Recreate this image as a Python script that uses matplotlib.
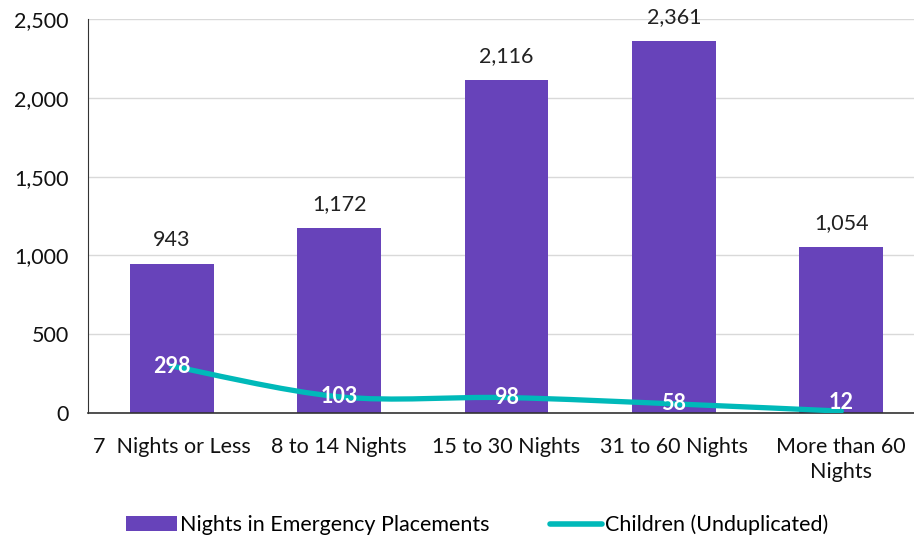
import numpy as np
import matplotlib
matplotlib.use("Agg")
import matplotlib.pyplot as plt
from matplotlib.path import Path
from matplotlib.patches import PathPatch
from matplotlib.lines import Line2D
from matplotlib.patches import Patch

# Data
categories = ["7  Nights or Less", "8 to 14 Nights", "15 to 30 Nights",
              "31 to 60 Nights", "More than 60\nNights"]
nights = [943, 1172, 2116, 2361, 1054]
children = [298, 103, 98, 58, 12]

BAR_COLOR = "#6743BA"
LINE_COLOR = "#00B9B9"
FS = 15.5

plt.rcParams['font.family'] = ['Lato', 'DejaVu Sans']

fig = plt.figure(figsize=(9.14, 5.41), dpi=100)
ax = fig.add_axes([88 / 914, 1 - 413 / 541, (925 - 88) / 914, (413 - 19) / 541])

x = np.arange(len(categories))
ax.bar(x, nights, width=0.5, color=BAR_COLOR, zorder=2)

for xi, v in zip(x, nights):
    ax.annotate(f"{v:,}", (xi, v), xytext=(0, 10), textcoords="offset points",
                ha="center", va="bottom", fontsize=FS, color="#222222")

# smoothed line (Excel style, Catmull-Rom -> cubic bezier)
verts = [(x[0], children[0])]
codes = [Path.MOVETO]
pts = list(zip(x, children))
for i in range(len(pts) - 1):
    p0 = pts[i - 1] if i > 0 else pts[i]
    p1 = pts[i]
    p2 = pts[i + 1]
    p3 = pts[i + 2] if i + 2 < len(pts) else pts[i + 1]
    c1 = (p1[0] + (p2[0] - p0[0]) / 6, p1[1] + (p2[1] - p0[1]) / 6)
    c2 = (p2[0] - (p3[0] - p1[0]) / 6, p2[1] - (p3[1] - p1[1]) / 6)
    verts += [c1, c2, p2]
    codes += [Path.CURVE4] * 3
ax.add_patch(PathPatch(Path(verts, codes), facecolor="none", edgecolor=LINE_COLOR,
                       lw=3.8, capstyle="round", zorder=3))

# labels on the line; the lowest one is kept inside the plot area like Excel does
for xi, v in zip(x, children):
    ax.annotate(f"{v}", (xi, v), xytext=(0, 6 if v < 30 else 0), textcoords="offset points",
                ha="center", va="center", fontsize=FS, fontweight="bold",
                color="white", zorder=4)

ax.set_xlim(-0.5, 4.5)
ax.set_ylim(0, 2500)
ax.set_yticks(range(0, 2501, 500))
ax.yaxis.set_major_formatter(matplotlib.ticker.FuncFormatter(lambda v, p: f"{int(v):,}"))
ax.set_xticks(x)
ax.set_xticklabels(categories, linespacing=1.35)
ax.tick_params(axis="both", length=0, labelsize=FS, colors="#111111")
ax.tick_params(axis="x", pad=17)
ax.tick_params(axis="y", pad=14)
ax.grid(axis="y", color="#d9d9d9", lw=1, zorder=0)
for s in ["top", "right"]:
    ax.spines[s].set_visible(False)
ax.spines["left"].set_color("#333333")
ax.spines["bottom"].set_color("#333333")
ax.spines["bottom"].set_linewidth(1.2)

handles = [Patch(facecolor=BAR_COLOR, label="Nights in Emergency Placements"),
           Line2D([0], [0], color=LINE_COLOR, lw=4, solid_capstyle="round",
                  label="Children (Unduplicated)")]
fig.legend(handles=handles, loc="center", bbox_to_anchor=(477 / 914, 1 - 525 / 541),
           ncol=2, frameon=False, fontsize=FS, handlelength=2.4, handletextpad=0.15,
           columnspacing=2.8)

fig.savefig("out.png", dpi=100)
